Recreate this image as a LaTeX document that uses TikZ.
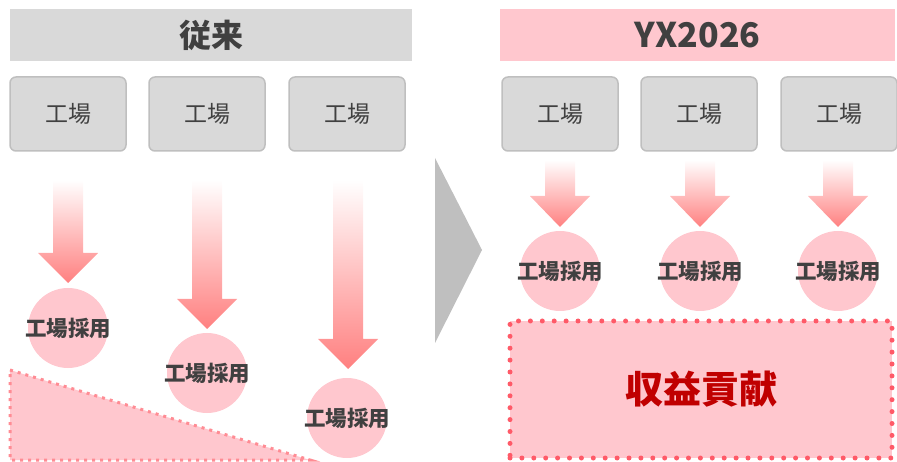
\documentclass[tikz,border=0pt]{standalone}
\usepackage{fontspec}
\setmainfont{Noto Sans CJK JP}
\definecolor{hdrgray}{HTML}{D9D9D9}
\definecolor{boxline}{HTML}{BFBFBF}
\definecolor{txtdark}{HTML}{404040}
\definecolor{pinkfill}{HTML}{FFC7CE}
\definecolor{arrowred}{HTML}{FF8080}
\definecolor{tridot}{HTML}{FF8C94}
\definecolor{revdot}{HTML}{FF5A68}
\definecolor{revtxt}{HTML}{C00000}
\definecolor{chevgray}{HTML}{BFBFBF}
\tikzset{
  hdr/.style={minimum width=#1, minimum height=52pt, inner sep=0pt, text=txtdark,
    font=\bfseries\fontsize{32}{38}\selectfont},
  factory/.style={draw=boxline, line width=1.5pt, fill=hdrgray, rounded corners=6pt,
    minimum width=116pt, minimum height=74pt, inner sep=0pt, text=txtdark,
    font=\fontsize{23}{27}\selectfont},
  adopt/.style={circle, fill=pinkfill, minimum size=80pt, inner sep=0pt},
  adopttxt/.style={inner sep=0pt, text=txtdark, font=\bfseries\fontsize{21.5}{25}\selectfont},
  blockarrow/.style={top color=white, bottom color=arrowred},
  tri/.style={fill=pinkfill, draw=tridot, line width=3pt, dash pattern=on 3pt off 5pt},
  rev/.style={fill=pinkfill, draw=revdot, line width=5pt, line cap=round,
    dash pattern=on 0pt off 11.9pt, minimum width=382pt, minimum height=137pt,
    inner sep=0pt, text=revtxt, font=\bfseries\fontsize{38}{44}\selectfont},
  chev/.style={fill=chevgray}
}
\newcommand\myarrow[4]{%
  \shade[blockarrow] (#1-15,#2) -- (#1+15,#2) -- (#1+15,#3) -- (#1+30,#3) -- (#1,#4)
    -- (#1-30,#3) -- (#1-15,#3) -- cycle;}
\begin{document}
\begin{tikzpicture}[x=1pt,y=-1pt]
\useasboundingbox (0,0) rectangle (897,462);
% headers
\node[hdr=402pt, fill=hdrgray] (hL) at (211,35) {従来};
\node[hdr=395pt, fill=pinkfill] (hR) at (697.5,35) {\fontsize{34}{40}\selectfont YX2026};
% factories left
\node[factory] (fL1) at (68,114) {工場};
\node[factory] (fL2) at (207,114) {工場};
\node[factory] (fL3) at (347,114) {工場};
% factories right
\node[factory] (fR1) at (560,114) {工場};
\node[factory] (fR2) at (699,114) {工場};
\node[factory] (fR3) at (839,114) {工場};
% left arrows
\myarrow{68}{180}{253}{283}
\myarrow{207}{180}{299}{329}
\myarrow{348}{180}{339}{369}
% right arrows
\myarrow{560}{160}{196}{227}
\myarrow{700}{160}{196}{227}
\myarrow{838}{160}{196}{227}
% triangle
\draw[tri] (10,370) -- (310,460) -- (10,460) -- cycle;
% left circles
\node[adopt] (cL1) at (68,328) {};
\node[adopt] (cL2) at (207,373) {};
\node[adopt] (cL3) at (347,418) {};
\node[adopttxt] (tL1) at (cL1) {工場採用};
\node[adopttxt] (tL2) at (cL2) {工場採用};
\node[adopttxt] (tL3) at (cL3) {工場採用};
% right circles
\node[adopt] (cR1) at (560,271) {};
\node[adopt] (cR2) at (700,271) {};
\node[adopt] (cR3) at (838,271) {};
\node[adopttxt] (tR1) at (cR1) {工場採用};
\node[adopttxt] (tR2) at (cR2) {工場採用};
\node[adopttxt] (tR3) at (cR3) {工場採用};
% chevron
\fill[chev] (435,158) -- (482,250) -- (435,343) -- cycle;
% revenue box
\node[rev] (rev) at (701,389.5) {収益貢献};
\end{tikzpicture}
\end{document}
